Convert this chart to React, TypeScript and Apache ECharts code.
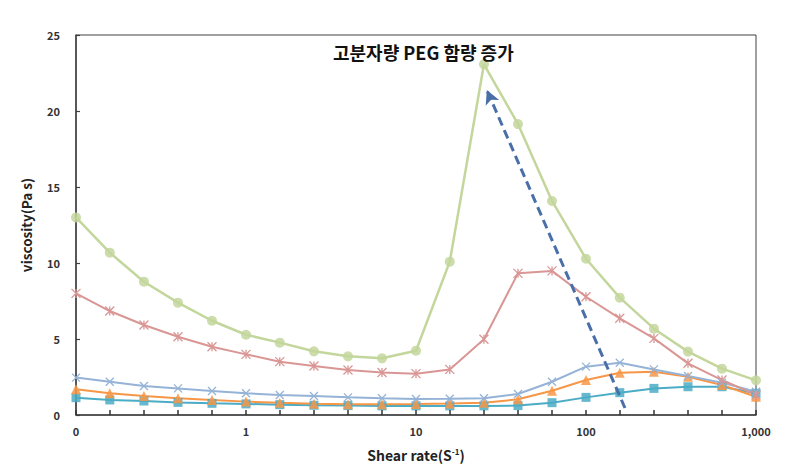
import React, { useEffect, useRef } from "react";
import * as echarts from "echarts";

const shearRates = [0.1, 0.158, 0.251, 0.398, 0.631, 1, 1.58, 2.51, 3.98, 6.31, 10, 15.8, 25.1, 39.8, 63.1, 100, 158, 251, 398, 631, 1000];
const xTickLabels = ["0", "1", "10", "100", "1,000"];

const greenSeries = [13.0, 10.68, 8.77, 7.39, 6.2, 5.28, 4.76, 4.19, 3.86, 3.73, 4.23, 10.09, 23.07, 19.14, 14.08, 10.28, 7.72, 5.68, 4.17, 3.05, 2.28];
const pinkSeries = [8.0, 6.84, 5.92, 5.15, 4.49, 3.99, 3.51, 3.22, 2.96, 2.8, 2.72, 3.0, 4.98, 9.32, 9.48, 7.78, 6.36, 5.04, 3.4, 2.3, 1.32];
const lavenderSeries = [2.46, 2.19, 1.91, 1.75, 1.58, 1.43, 1.32, 1.25, 1.16, 1.1, 1.05, 1.07, 1.1, 1.38, 2.19, 3.18, 3.44, 3.0, 2.57, 2.13, 1.53];
const orangeSeries = [1.69, 1.43, 1.25, 1.1, 0.99, 0.88, 0.81, 0.74, 0.71, 0.7, 0.72, 0.75, 0.8, 1.03, 1.6, 2.3, 2.78, 2.85, 2.52, 1.97, 1.2];
const blueSeries = [1.14, 0.99, 0.92, 0.83, 0.77, 0.73, 0.68, 0.64, 0.62, 0.6, 0.6, 0.6, 0.6, 0.62, 0.81, 1.16, 1.47, 1.75, 1.86, 1.86, 1.43];

const arrowStart = [169.5, 0.46];
const arrowEnd = [26.1, 21.38];
const annotation = "고분자량 PEG 함량 증가";

const FONT = "'Noto Sans CJK KR', 'Noto Sans', sans-serif";
const AXIS_COLOR = "#404040";

const xMark = "path://M0,0L10,10M10,0L0,10";
const starMark = "path://M0,0L10,10M10,0L0,10M5,0L5,10";

function pairs(vals: number[]) {
  return shearRates.map((x, i) => [x, vals[i]]);
}

export default function App() {
  const ref = useRef<HTMLDivElement>(null);
  useEffect(() => {
    if (!ref.current) return;
    const chart = echarts.init(ref.current, undefined, { renderer: "svg" });
    const mk = (name: string, data: number[], color: string, symbol: string, size: number, stroke: boolean, width: number) => ({
      name,
      type: "line",
      xAxisIndex: 0,
      data: pairs(data),
      color,
      symbol,
      symbolSize: size,
      showSymbol: true,
      lineStyle: { color, width },
      itemStyle: stroke
        ? { color: "rgba(0,0,0,0)", borderColor: color, borderWidth: 1.3 }
        : { color, opacity: 0.85 },
      z: 3,
    });
    chart.setOption({
      animation: false,
      backgroundColor: "#ffffff",
      grid: { left: 76, right: 30, top: 35, bottom: 54, show: true, borderColor: AXIS_COLOR, borderWidth: 1, backgroundColor: "transparent" },
      xAxis: [
        {
          type: "log",
          logBase: 10,
          min: 0.1,
          max: 1000,
          position: "bottom",
          name: "{n|Shear rate(S}{s|-1}{n|)}",
          nameLocation: "middle",
          nameGap: 32,
          nameTextStyle: {
            rich: {
              n: { fontFamily: FONT, fontWeight: "bold", fontSize: 14, color: "#222" },
              s: { fontFamily: FONT, fontWeight: "bold", fontSize: 8, color: "#222", verticalAlign: "top", padding: [0, 0, 8, 0] },
            },
          },
          axisLine: { onZero: false, lineStyle: { color: AXIS_COLOR, width: 1.5 } },
          axisTick: { show: false },
          splitLine: { show: false },
          minorSplitLine: { show: false },
          axisLabel: {
            margin: 10,
            fontFamily: FONT,
            fontWeight: "bold",
            fontSize: 11,
            color: "#333",
            formatter: (v: number) => {
              const idx = Math.round(Math.log10(v)) + 1;
              return xTickLabels[idx] ?? "";
            },
          },
        },
        {
          type: "value",
          min: -1,
          max: 3,
          interval: 0.2,
          position: "bottom",
          axisLine: { show: true, onZero: false, lineStyle: { color: "rgba(0,0,0,0)" } },
          axisTick: { show: true, inside: true, length: 5, lineStyle: { color: "#333", width: 1.5 } },
          axisLabel: { show: false },
          splitLine: { show: false },
          z: 10,
        },
      ],
      yAxis: {
        type: "value",
        min: 0,
        max: 25,
        interval: 5,
        name: "viscosity(Pa s)",
        nameLocation: "middle",
        nameGap: 43,
        nameTextStyle: { fontFamily: FONT, fontWeight: "bold", fontSize: 13.5, color: "#222" },
        axisLine: { show: true, onZero: false, lineStyle: { color: AXIS_COLOR, width: 1.5 } },
        axisTick: { show: true, inside: true, length: 4, lineStyle: { color: AXIS_COLOR, width: 1.2 } },
        splitLine: { show: false },
        axisLabel: { margin: 16, fontFamily: FONT, fontWeight: "bold", fontSize: 11, color: "#333" },
      },
      series: [
        { type: "line", name: "tickHolder", xAxisIndex: 1, data: [], silent: true, symbol: "none" },
        mk("blue", blueSeries, "#4bacc6", "rect", 9, false, 2),
        mk("orange", orangeSeries, "#f79646", "triangle", 10, false, 2),
        mk("lavender", lavenderSeries, "#95b3d7", xMark, 8, true, 2),
        mk("pink", pinkSeries, "#d99694", starMark, 9, true, 2),
        {
          ...mk("green", greenSeries, "#c3d69b", "circle", 10, false, 2.5),
          markLine: {
            silent: true,
            symbol: ["none", "arrow"],
            symbolSize: [11, 14],
            label: { show: false },
            lineStyle: { color: "#4a6fa8", width: 3, type: [9, 5] },
            data: [[{ coord: arrowStart }, { coord: arrowEnd }]],
            z: 5,
          },
        },
      ],
      graphic: [
        {
          type: "text",
          left: 333,
          top: 43,
          z: 10,
          style: {
            text: annotation,
            fontFamily: FONT,
            fontSize: 18,
            fontWeight: "bold",
            fill: "#111",
          },
        },
      ],
    });
    return () => chart.dispose();
  }, []);
  return <div ref={ref} style={{ width: 786, height: 469, position: "absolute", left: 0, top: 0 }} />;
}
